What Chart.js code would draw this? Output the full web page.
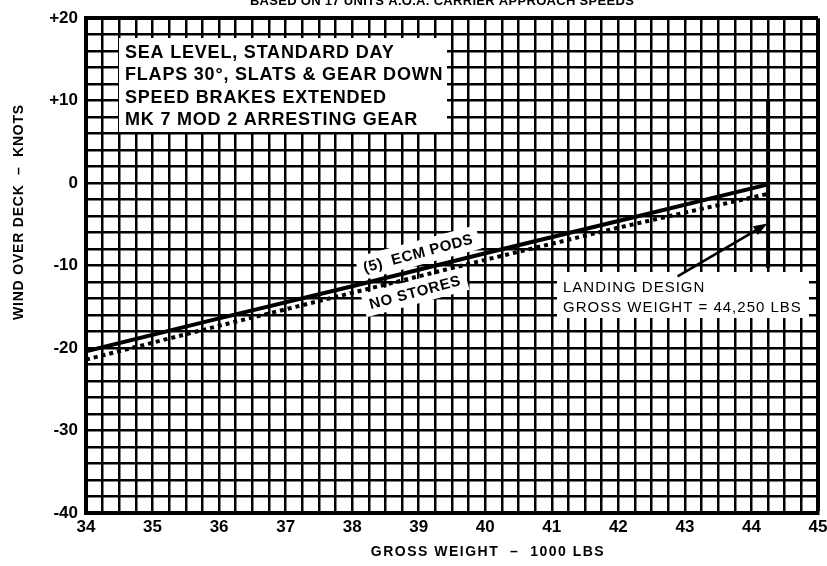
<!DOCTYPE html>
<html lang="en">
<head>
<meta charset="UTF-8">
<title>Wind Over Deck - Gross Weight</title>
<script src="https://cdn.jsdelivr.net/npm/chart.js"></script>
<style>
  body { margin: 0; background: #fff; }
  canvas { display: block; }
</style>
</head>
<body>
<canvas id="wodChart" width="827" height="566"></canvas>
<script>
  // gross weight, 1000 lbs
  const weights = [34, 36, 38, 40, 42, 44.25];
  // wind over deck, knots
  const ecmPods = [-20.4, -16.4, -12.5, -8.5, -4.6, -0.15];
  const noStores = [-21.4, -17.3, -13.3, -9.3, -5.4, -1.3];
  // landing design gross weight marker and its arrow
  const landingWeight = [44.25, 44.25];
  const landingWod = [10, -10.3];
  const arrowWeight = [42.89, 44.24];
  const arrowWod = [-11.3, -4.9];
  const yLabels = [20, 10, 0, -10, -20, -30, -40];
  const notes = ['SEA LEVEL, STANDARD DAY', 'FLAPS 30\u00b0, SLATS & GEAR DOWN', 'SPEED BRAKES EXTENDED', 'MK 7 MOD 2 ARRESTING GEAR'];

  const pts = (xs, ys) => xs.map((x, i) => ({x: x, y: ys[i]}));
  const FONT = "'Liberation Sans', Arial, Helvetica, sans-serif";

  const whiteBg = {
    id: 'whiteBg',
    beforeDraw(chart) {
      const c = chart.ctx;
      c.save();
      c.fillStyle = '#fff';
      c.fillRect(0, 0, chart.width, chart.height);
      c.restore();
    }
  };

  function maskText(c, text, cx, cy, angle, font, spacing, padX, padY) {
    c.save();
    c.translate(cx, cy);
    c.rotate(angle);
    c.font = font;
    c.letterSpacing = spacing;
    const w = c.measureText(text).width;
    c.fillStyle = '#fff';
    c.fillRect(-w / 2 - padX, -padY, w + 2 * padX, 2 * padY);
    c.fillStyle = '#000';
    c.textAlign = 'center';
    c.textBaseline = 'middle';
    c.fillText(text, 0, 1);
    c.restore();
  }

  const notesPlugin = {
    id: 'notes',
    beforeDatasetsDraw(chart) {
      const c = chart.ctx;
      c.save();
      // conditions box
      c.fillStyle = '#fff';
      c.fillRect(119, 38, 328, 94);
      c.fillStyle = '#000';
      c.font = 'bold 18px ' + FONT;
      c.letterSpacing = '0.8px';
      c.textBaseline = 'middle';
      notes.forEach((t, i) => c.fillText(t, 125, 53 + i * 22.3));
      // landing design box
      c.fillStyle = '#fff';
      c.fillRect(557, 272, 252, 46);
      c.fillStyle = '#000';
      c.font = '15px ' + FONT;
      c.letterSpacing = '1px';
      c.fillText('LANDING DESIGN', 563, 288);
      c.fillText('GROSS WEIGHT = 44,250 LBS', 563, 308);
      c.restore();
      const ang = -15 * Math.PI / 180;
      maskText(c, '(5)  ECM PODS', 418, 253, ang, 'bold 15px ' + FONT, '0.5px', 6, 12);
      maskText(c, 'NO STORES', 415, 292, ang, 'bold 15px ' + FONT, '0.7px', 6, 12);
    },
    afterDatasetsDraw(chart) {
      const c = chart.ctx;
      const xs = chart.scales.x, ys = chart.scales.y;
      const x0 = xs.getPixelForValue(arrowWeight[0]), y0 = ys.getPixelForValue(arrowWod[0]);
      const x1 = xs.getPixelForValue(arrowWeight[1]), y1 = ys.getPixelForValue(arrowWod[1]);
      const a = Math.atan2(y1 - y0, x1 - x0);
      c.save();
      c.strokeStyle = '#000';
      c.fillStyle = '#000';
      c.lineWidth = 2.5;
      c.beginPath();
      c.moveTo(x0, y0);
      c.lineTo(x1 - 10 * Math.cos(a), y1 - 10 * Math.sin(a));
      c.stroke();
      c.beginPath();
      c.moveTo(x1, y1);
      c.lineTo(x1 - 14 * Math.cos(a) + 5 * Math.sin(a), y1 - 14 * Math.sin(a) - 5 * Math.cos(a));
      c.lineTo(x1 - 14 * Math.cos(a) - 5 * Math.sin(a), y1 - 14 * Math.sin(a) + 5 * Math.cos(a));
      c.closePath();
      c.fill();
      c.restore();
    },
    afterDraw(chart) {
      const c = chart.ctx;
      c.save();
      c.fillStyle = '#000';
      c.textAlign = 'center';
      c.textBaseline = 'alphabetic';
      c.font = 'bold 13px ' + FONT;
      c.letterSpacing = '0.3px';
      c.fillText('BASED ON 17 UNITS A.O.A. CARRIER APPROACH SPEEDS', 442, 5);
      c.font = 'bold 14px ' + FONT;
      c.letterSpacing = '1.5px';
      c.textBaseline = 'middle';
      c.fillText('GROSS WEIGHT  \u2013  1000 LBS', 488, 552);
      c.translate(19, 212);
      c.rotate(-Math.PI / 2);
      c.letterSpacing = '0.8px';
      c.fillText('WIND OVER DECK  \u2013  KNOTS', 0, 0);
      c.restore();
    }
  };

  new Chart(document.getElementById('wodChart').getContext('2d'), {
    type: 'scatter',
    data: {
      datasets: [
        {
          label: '(5) ECM PODS',
          data: pts(weights, ecmPods),
          showLine: true,
          borderColor: '#000',
          borderWidth: 4,
          pointRadius: 0
        },
        {
          label: 'NO STORES',
          data: pts(weights, noStores),
          showLine: true,
          borderColor: '#000',
          borderWidth: 4,
          borderDash: [4, 4],
          pointRadius: 0
        },
        {
          label: 'LANDING DESIGN GROSS WEIGHT',
          data: pts(landingWeight, landingWod),
          showLine: true,
          borderColor: '#000',
          borderWidth: 4,
          pointRadius: 0
        }
      ]
    },
    options: {
      responsive: false,
      animation: false,
      layout: { padding: { top: 16, right: 9, left: 0, bottom: 0 } },
      plugins: {
        legend: { display: false },
        tooltip: { enabled: false }
      },
      scales: {
        x: {
          type: 'linear',
          min: 34,
          max: 45,
          afterFit(s) { s.height = 53; s.paddingLeft = 0; s.paddingRight = 0; },
          border: { display: true, color: '#000', width: 4 },
          grid: {
            color: '#000',
            drawTicks: false,
            lineWidth: ctx => (ctx.tick && ctx.tick.value === 45) ? 4 : 2.5
          },
          ticks: {
            stepSize: 0.25,
            autoSkip: false,
            maxRotation: 0,
            padding: 4,
            color: '#000',
            font: { family: FONT, size: 17, weight: 'bold' },
            callback: v => Math.abs(v - Math.round(v)) < 1e-6 ? String(Math.round(v)) : ''
          }
        },
        y: {
          type: 'linear',
          min: -40,
          max: 20,
          afterFit(s) { s.width = 86; },
          border: { display: true, color: '#000', width: 4 },
          grid: {
            color: '#000',
            drawTicks: false,
            lineWidth: ctx => (ctx.tick && ctx.tick.value === 20) ? 4 : 2.5
          },
          ticks: {
            stepSize: 2,
            autoSkip: false,
            padding: 8,
            color: '#000',
            font: { family: FONT, size: 17, weight: 'bold' },
            callback: v => yLabels.includes(v) ? (v > 0 ? '+' + v : String(v)) : ''
          }
        }
      }
    },
    plugins: [whiteBg, notesPlugin]
  });
</script>
</body>
</html>
